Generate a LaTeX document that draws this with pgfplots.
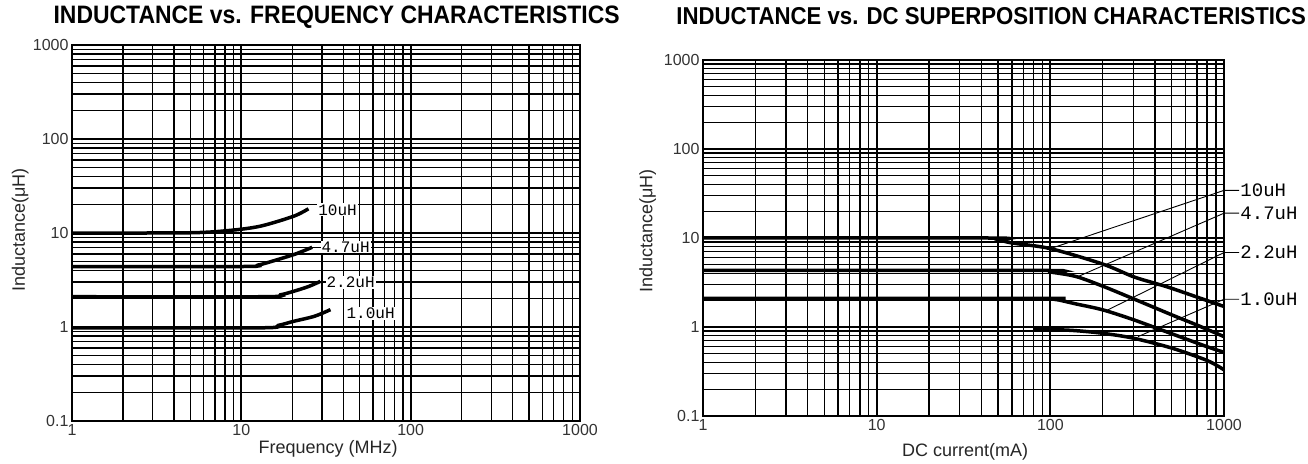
\documentclass[border=0pt]{standalone}
\usepackage{fontspec}
\setmainfont{Liberation Sans}
\newfontfamily\titlefont{Liberation Sans}[FakeStretch=0.91]
\newfontfamily\monof{Liberation Mono}
\usepackage{pgfplots}
\pgfplotsset{compat=1.18}

\tikzset{
  ccurve/.style={black, line width=3.5pt, smooth},
  lead/.style={black, line width=0.9pt},
  tagtext/.style={font=\monof\fontsize{16}{16}\selectfont, inner sep=1pt},
  tagbig/.style={font=\monof\fontsize{19}{19}\selectfont, inner sep=1pt},
}
\pgfplotsset{every axis/.append style={
    scale only axis,
    xmin=1, xmax=1000, ymin=0.1, ymax=1000,
    xtick={1,10,100,1000}, xticklabels={1,10,100,1000},
    ytick={0.1,1,10,100,1000}, yticklabels={0.1,1,10,100,1000},
    grid=both,
    major grid style={black, line width=1.8pt},
    minor grid style={black, line width=1.4pt},
    axis line style={black, line width=1.8pt},
    major tick length=0pt, minor tick length=0pt,
    tick label style={font=\fontsize{16}{16}\selectfont, text=black!80},
    label style={font=\fontsize{18}{18}\selectfont, text=black!85},
    clip=false,
}}

\begin{document}
\begin{tikzpicture}

% inductance vs frequency
\begin{axis}[xmode=log, ymode=log,
  at={(72pt,42pt)}, anchor=south west, width=508pt, height=376pt,
  title={INDUCTANCE vs. FREQUENCY CHARACTERISTICS},
  title style={at={(axis description cs:0.521,1.075)}, anchor=center, yshift=-6pt,
    font=\titlefont\fontsize{25.2}{25.2}\selectfont\bfseries},
  xlabel={Frequency (MHz)},
  xlabel style={at={(axis description cs:0.504,-0.075)}, anchor=center},
  ylabel={Inductance(μH)},
  ylabel style={at={(axis description cs:-0.102,0.508)}, anchor=center},
]
\addplot[ccurve, mark=none] coordinates {(1,10) (4.8,10.05) (8.3,10.6) (12.9,11.8) (20.4,15.1) (24.9,18.1)};
\addplot[ccurve, mark=none] coordinates {(1,4.4) (10,4.4) (12.5,4.55) (16.3,5.2) (21,6.0) (26.2,7.05)};
\addplot[ccurve, mark=none] coordinates {(1,2.1) (13.5,2.1) (17,2.2) (20.4,2.4) (25,2.7) (29.3,3.06)};
\addplot[ccurve, mark=none] coordinates {(1,0.98) (12.9,0.98) (16.5,1.04) (20.4,1.15) (27,1.3) (33.6,1.53)};
\node[tagtext, fill=white] at (axis cs:37,17.6) {10uH};
\node[tagtext, fill=white] at (axis cs:41.3,7.1) {4.7uH};
\node[tagtext, fill=white] at (axis cs:44.2,3.0) {2.2uH};
\node[tagtext, fill=white] at (axis cs:58,1.4) {1.0uH};
\end{axis}

% inductance vs DC superposition
\begin{axis}[xmode=log, ymode=log,
  at={(703pt,47pt)}, anchor=south west, width=521pt, height=356pt,
  title={INDUCTANCE vs. DC SUPERPOSITION CHARACTERISTICS},
  title style={at={(axis description cs:0.553,1.124)}, anchor=center, yshift=-6pt,
    font=\titlefont\fontsize{24.4}{24.4}\selectfont\bfseries},
  xlabel={DC current(mA)},
  xlabel style={at={(axis description cs:0.503,-0.101)}, anchor=center},
  ylabel={Inductance(μH)},
  ylabel style={at={(axis description cs:-0.106,0.52)}, anchor=center},
]
\addplot[ccurve, mark=none] coordinates {(1,10) (44,10) (50,9.6) (60,8.8) (100,7.6) (200,5.1) (300,3.68) (400,3.1) (500,2.72) (1000,1.7)};
\addplot[ccurve, mark=none] coordinates {(1,4.32) (88,4.32) (100,4.15) (140,3.7) (200,2.88) (300,2.08) (500,1.37) (700,1.05) (1000,0.78)};
\addplot[ccurve, mark=none] coordinates {(1,2.1) (90,2.1) (100,2.07) (112,2.01) (140,1.82) (200,1.56) (300,1.21) (500,0.84) (800,0.6) (1000,0.52)};
\addplot[ccurve, mark=none] coordinates {(80,0.96) (100,0.94) (140,0.91) (200,0.85) (300,0.75) (500,0.58) (800,0.42) (1000,0.33)};
\draw[lead] (axis cs:100,7.6) -- (axis cs:1000,34.3) -- (axis cs:1220,34.3) node[tagbig, anchor=west] {10uH};
\draw[lead] (axis cs:143,3.66) -- (axis cs:1000,19) -- (axis cs:1220,19) node[tagbig, anchor=west] {4.7uH};
\draw[lead] (axis cs:209,1.52) -- (axis cs:1000,6.87) -- (axis cs:1220,6.87) node[tagbig, anchor=west] {2.2uH};
\draw[lead] (axis cs:320,0.78) -- (axis cs:1000,2.05) -- (axis cs:1220,2.05) node[tagbig, anchor=west] {1.0uH};
\end{axis}

\pgfresetboundingbox
\path[use as bounding box] (0,0) rectangle (1308pt,463pt);
\end{tikzpicture}
\end{document}
